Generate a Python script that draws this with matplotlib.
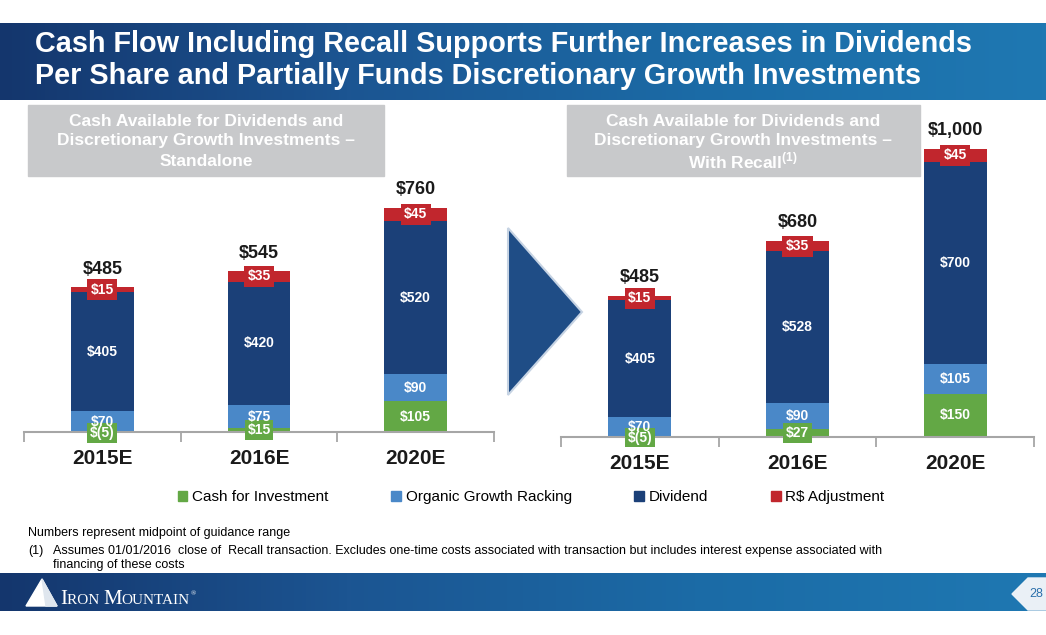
import matplotlib
matplotlib.use('Agg')
import matplotlib.pyplot as plt
import numpy as np
from matplotlib.patches import Rectangle, Polygon, Patch
from matplotlib.colors import LinearSegmentedColormap

plt.rcParams['font.family'] = ['Liberation Sans', 'DejaVu Sans']
plt.rcParams['mathtext.fontset'] = 'custom'
plt.rcParams['mathtext.bf'] = 'Liberation Sans:bold'
plt.rcParams['mathtext.rm'] = 'Liberation Sans'

years = ['2015E', '2016E', '2020E']
series = ['Cash for Investment', 'Organic Growth Racking', 'Dividend', 'R$ Adjustment']
colors = ['#63a845', '#4a88c8', '#1b4078', '#c1262d']

# standalone
sa_cash = [-5, 15, 105]
sa_organic = [70, 75, 90]
sa_dividend = [405, 420, 520]
sa_adjust = [15, 35, 45]
sa_total = ['$485', '$545', '$760']

# with Recall
rc_cash = [-5, 27, 150]
rc_organic = [70, 90, 105]
rc_dividend = [405, 528, 700]
rc_adjust = [15, 35, 45]
rc_total = ['$485', '$680', '$1,000']

W, H = 1046, 635
fig = plt.figure(figsize=(W / 100, H / 100), dpi=100)

# background layer in pixel coordinates
bg = fig.add_axes([0, 0, 1, 1])
band = LinearSegmentedColormap.from_list('band', ['#14366d', '#1c5592', '#1b6ba6', '#1f78b2'])
grad = np.linspace(0, 1, 256).reshape(1, -1)
bg.imshow(grad, extent=(0, W, 100, 23), cmap=band, aspect='auto')
bg.imshow(grad, extent=(0, W, 611, 573), cmap=band, aspect='auto')
bg.set_xlim(0, W)
bg.set_ylim(H, 0)
bg.axis('off')

bg.text(35, 44, 'Cash Flow Including Recall Supports Further Increases in Dividends',
        color='white', fontsize=20.8, fontweight='bold', va='center')
bg.text(35, 76, 'Per Share and Partially Funds Discretionary Growth Investments',
        color='white', fontsize=20.8, fontweight='bold', va='center')

# grey sub-title boxes
bg.add_patch(Rectangle((28, 105), 356, 71, color='#c8c9cb'))
bg.add_patch(Rectangle((567, 105), 353, 71, color='#c8c9cb'))
for i, line in enumerate(['Cash Available for Dividends and',
                          'Discretionary Growth Investments \u2013', 'Standalone']):
    bg.text(206, 121 + 20 * i, line, color='white', fontsize=12.5, fontweight='bold',
            ha='center', va='center')
for i, line in enumerate(['Cash Available for Dividends and',
                          'Discretionary Growth Investments \u2013',
                          r'With Recall$^{\mathbf{(1)}}$']):
    bg.text(743, 121 + 20 * i, line, color='white', fontsize=12.5, fontweight='bold',
            ha='center', va='center')

# arrow between the charts
bg.add_patch(Polygon([(508, 228), (582, 312), (508, 395)], closed=True,
                     facecolor='#1f4d86', edgecolor='#c6d3e3', lw=1.5))

# footnotes
bg.text(28, 533, 'Numbers represent midpoint of guidance range', fontsize=9, va='center')
bg.text(28, 551, '(1)', fontsize=9, va='center')
bg.text(53, 551, 'Assumes 01/01/2016  close of  Recall transaction. Excludes one-time costs '
        'associated with transaction but includes interest expense associated with',
        fontsize=9, va='center')
bg.text(53, 565, 'financing of these costs', fontsize=9, va='center')

# footer logo (small caps word mark) and page number
bg.add_patch(Polygon([(26, 606), (42, 579), (57, 606)], closed=True, color='white'))
bg.add_patch(Polygon([(42, 579), (57, 606), (46, 606)], closed=True, color='#dfe6ee'))
renderer = fig.canvas.get_renderer()
xpos = 60
for piece, size in [('I', 15), ('RON ', 11), ('M', 15), ('OUNTAIN', 11)]:
    t = bg.text(xpos, 604, piece, family='Liberation Serif', fontsize=size,
                color='white', va='baseline')
    bb = t.get_window_extent(renderer)
    xpos += bb.width
bg.text(xpos + 1, 594, '\u00ae', family='Liberation Serif', fontsize=5, color='white',
        va='center')
bg.add_patch(Polygon([(1046, 578), (1028, 578), (1012, 594), (1028, 610), (1046, 610)],
                     closed=True, color='#eaf0f6'))
bg.text(1036, 594, '28', color='#2a6fab', fontsize=9, ha='center', va='center')


def px_axes(x0, x1, y_top, y_bot):
    return fig.add_axes([x0 / W, 1 - y_bot / H, (x1 - x0) / W, (y_bot - y_top) / H])


def draw(ax, cash, organic, dividend, adjust, totals, zero_px, scale, top_px, bot_px):
    x = np.arange(len(years))
    cash = np.array(cash)
    organic = np.array(organic)
    dividend = np.array(dividend)
    adjust = np.array(adjust)
    width = 0.4

    base = np.clip(cash, 0, None)
    ax.bar(x, cash, width, color=colors[0])
    ax.bar(x, organic, width, bottom=base, color=colors[1])
    ax.bar(x, dividend, width, bottom=base + organic, color=colors[2])
    ax.bar(x, adjust, width, bottom=base + organic + dividend, color=colors[3])
    top = base + organic + dividend + adjust

    lab = dict(color='white', fontsize=10, fontweight='bold', ha='center', va='center',
               zorder=5)
    for i in range(len(x)):
        c = cash[i]
        ctext = '$(%d)' % -c if c < 0 else '$%d' % c
        ax.text(x[i], c / 2, ctext,
                bbox=dict(boxstyle='square,pad=0.2', fc=colors[0], ec='none'), **lab)
        ax.text(x[i], base[i] + organic[i] / 2, '$%d' % organic[i], **lab)
        ax.text(x[i], base[i] + organic[i] + dividend[i] / 2, '$%d' % dividend[i], **lab)
        ax.text(x[i], top[i] - adjust[i] / 2, '$%d' % adjust[i],
                bbox=dict(boxstyle='square,pad=0.25', fc=colors[3], ec='none'), **lab)
        ax.annotate(totals[i], (x[i], top[i]), xytext=(0, 7), textcoords='offset points',
                    ha='center', va='bottom', fontsize=13, fontweight='bold', color='#1a1a1a')

    for s in ['top', 'right', 'left']:
        ax.spines[s].set_visible(False)
    ax.spines['bottom'].set_position(('data', 0))
    ax.spines['bottom'].set_color('#a6a6a6')
    ax.spines['bottom'].set_linewidth(1.5)

    ax.set_xlim(-0.5, 2.5)
    ax.set_ylim(-(bot_px - zero_px) / scale, (zero_px - top_px) / scale)
    ax.set_xticks(x)
    ax.set_xticklabels(years, fontsize=15, fontweight='bold', color='#1a1a1a')
    ax.set_xticks([-0.5, 0.5, 1.5, 2.5], minor=True)
    ax.tick_params(axis='x', which='major', length=0, pad=12)
    ax.tick_params(axis='x', which='minor', length=7, width=1.3, color='#a6a6a6')
    ax.set_yticks([])
    ax.patch.set_alpha(0)


ax1 = px_axes(24, 494, 180, 450)
draw(ax1, sa_cash, sa_organic, sa_dividend, sa_adjust, sa_total, 432, 0.295, 180, 450)
ax2 = px_axes(561, 1034, 120, 455)
draw(ax2, rc_cash, rc_organic, rc_dividend, rc_adjust, rc_total, 437, 0.288, 120, 455)

handles = [Patch(color=c) for c in colors]
fig.legend(handles, series, loc='center', bbox_to_anchor=(531 / W, 1 - 497 / H), ncol=4,
           frameon=False, fontsize=11, handlelength=0.65, handleheight=0.65,
           handletextpad=0.3, columnspacing=4.1)

fig.savefig('out.png', dpi=100)
